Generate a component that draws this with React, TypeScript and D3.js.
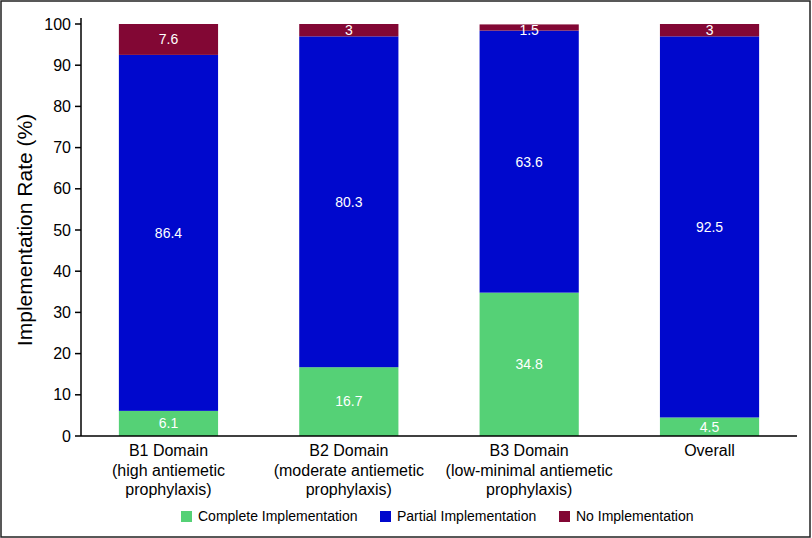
import React from "react";
import { scaleBand, scaleLinear, stack } from "d3";

const categories = ["B1", "B2", "B3", "Overall"];
const categoryLabels = [
  ["B1 Domain", "(high antiemetic", "prophylaxis)"],
  ["B2 Domain", "(moderate antiemetic", "prophylaxis)"],
  ["B3 Domain", "(low-minimal antiemetic", "prophylaxis)"],
  ["Overall"],
];
const seriesNames = ["Complete Implementation", "Partial Implementation", "No Implementation"];
const complete = [6.1, 16.7, 34.8, 4.5];
const partial = [86.4, 80.3, 63.6, 92.5];
const none = [7.6, 3, 1.5, 3];
const yTicks = [0, 10, 20, 30, 40, 50, 60, 70, 80, 90, 100];
const colors = ["#55d176", "#0008cd", "#820734"];

const W = 812;
const H = 538;
const FONT = "Arial, 'Liberation Sans', Helvetica, sans-serif";

const App = () => {
  // plot box
  const left = 81;
  const right = 797;
  const top = 24;
  const bottom = 436;

  const x = scaleBand<string>()
    .domain(categories)
    .range([left, right])
    .paddingInner(0.45)
    .paddingOuter(0.21);
  const y = scaleLinear().domain([0, 100]).range([bottom, top]);

  const rows = categories.map((c, i) => ({ cat: c, s0: complete[i], s1: partial[i], s2: none[i] }));
  const layers = stack<any>().keys(["s0", "s1", "s2"])(rows);

  const legendX = [181, 380, 559];

  return (
    <div style={{ position: "absolute", left: 0, top: 0 }}>
      <svg width={W} height={H} style={{ display: "block", fontFamily: FONT }}>
        <rect x={0} y={0} width={W} height={H} fill="#fff" />
        <rect x={1} y={1} width={W - 3} height={H - 2} fill="none" stroke="#222" strokeWidth={1.5} />

        {/* bars */}
        {layers.map((layer, li) => (
          <g key={li}>
            {layer.map((d, i) => {
              const y0 = y(d[0]);
              const y1 = y(Math.min(d[1], 100));
              const val = [complete, partial, none][li][i];
              // small segments at the top get their label nudged down a bit
              const ly = Math.max((y0 + y1) / 2, top + 6);
              return (
                <g key={i}>
                  <rect x={x(categories[i])} y={y1} width={x.bandwidth()} height={y0 - y1} fill={colors[li]} />
                  <text
                    x={(x(categories[i]) as number) + x.bandwidth() / 2}
                    y={ly}
                    dy="0.35em"
                    textAnchor="middle"
                    fill="#fff"
                    fontSize={14}
                  >
                    {val}
                  </text>
                </g>
              );
            })}
          </g>
        ))}

        {/* y axis */}
        <line x1={left} x2={left} y1={top - 6} y2={bottom} stroke="#000" strokeWidth={1.5} />
        {yTicks.map((t) => (
          <g key={t}>
            <line x1={left - 6} x2={left} y1={y(t)} y2={y(t)} stroke="#000" strokeWidth={1.5} />
            <text x={left - 10} y={y(t)} dy="0.35em" textAnchor="end" fontSize={16} fill="#000">
              {t}
            </text>
          </g>
        ))}
        <text
          transform={`translate(32,${(top + bottom) / 2}) rotate(-90)`}
          textAnchor="middle"
          fontSize={21}
          fill="#000"
        >
          Implementation Rate (%)
        </text>

        {/* x axis */}
        <line x1={left} x2={right} y1={bottom} y2={bottom} stroke="#000" strokeWidth={1.5} />
        {categories.map((c, i) => (
          <text key={c} textAnchor="middle" fontSize={16} fill="#000">
            {categoryLabels[i].map((line, k) => (
              <tspan key={k} x={(x(c) as number) + x.bandwidth() / 2} y={456 + k * 19.5}>
                {line}
              </tspan>
            ))}
          </text>
        ))}

        {/* legend */}
        {seriesNames.map((s, i) => (
          <g key={s}>
            <rect x={legendX[i]} y={511} width={11} height={11} fill={colors[i]} />
            <text x={legendX[i] + 17} y={516.5} dy="0.35em" fontSize={14} fill="#000">
              {s}
            </text>
          </g>
        ))}
      </svg>
    </div>
  );
};

export default App;
